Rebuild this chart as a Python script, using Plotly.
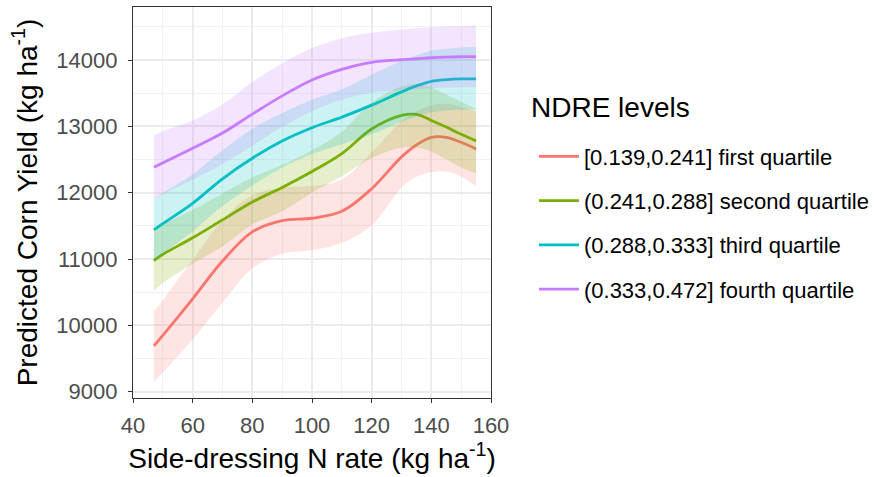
import plotly.graph_objects as go

# Side-dressing N rates at which the fitted curves are evaluated (kg/ha)
n_rate = [47, 50, 60, 70, 80, 90, 100, 110, 120, 130, 135, 140, 145, 150, 155]

levels = [
    "[0.139,0.241] first quartile",
    "(0.241,0.288] second quartile",
    "(0.288,0.333] third quartile",
    "(0.333,0.472] fourth quartile",
]
colors = ["#F8766D", "#7CAE00", "#00BFC4", "#C77CFF"]
fills = ["rgba(248,118,109,0.2)", "rgba(124,174,0,0.2)",
         "rgba(0,191,196,0.2)", "rgba(199,124,255,0.2)"]

# Predicted yield (kg/ha) and confidence band for each NDRE level
q1_fit = [9690, 9850, 10400, 10970, 11410, 11580, 11615, 11720, 12060, 12540, 12720, 12835, 12835, 12760, 12660]
q1_lo = [9150, 9290, 9790, 10340, 10860, 11080, 11135, 11245, 11510, 12080, 12240, 12310, 12320, 12240, 12100]
q1_hi = [10210, 10380, 10990, 11590, 11960, 12080, 12100, 12200, 12610, 13080, 13230, 13320, 13340, 13290, 13220]

q2_fit = [10975, 11070, 11320, 11590, 11860, 12080, 12320, 12590, 12960, 13165, 13180, 13090, 12990, 12880, 12780]
q2_lo = [10520, 10640, 10930, 11190, 11520, 11720, 12000, 12250, 12520, 12680, 12680, 12620, 12500, 12380, 12290]
q2_hi = [11430, 11520, 11740, 11990, 12230, 12420, 12640, 12920, 13360, 13600, 13640, 13590, 13480, 13370, 13260]

q3_fit = [11440, 11535, 11840, 12210, 12520, 12780, 12980, 13140, 13320, 13520, 13610, 13680, 13705, 13715, 13715]
q3_lo = [10970, 11080, 11420, 11800, 12110, 12380, 12580, 12730, 12880, 13070, 13150, 13210, 13240, 13250, 13250]
q3_hi = [11910, 12000, 12280, 12640, 12960, 13200, 13400, 13560, 13780, 13990, 14070, 14140, 14170, 14190, 14200]

q4_fit = [12385, 12450, 12670, 12900, 13185, 13460, 13700, 13860, 13965, 14005, 14020, 14035, 14045, 14050, 14050]
q4_lo = [11910, 11980, 12200, 12430, 12710, 12990, 13230, 13400, 13510, 13550, 13565, 13575, 13585, 13590, 13590]
q4_hi = [12860, 12930, 13090, 13330, 13670, 13950, 14180, 14330, 14410, 14460, 14480, 14495, 14505, 14515, 14520]

fits = [q1_fit, q2_fit, q3_fit, q4_fit]
lows = [q1_lo, q2_lo, q3_lo, q4_lo]
highs = [q1_hi, q2_hi, q3_hi, q4_hi]

FONT = "Liberation Sans, Arial, sans-serif"
TITLE_SIZE = 28
TEXT_SIZE = 22

fig = go.Figure()
for i, name in enumerate(levels):
    grp = f"g{i}"
    fig.add_trace(go.Scatter(
        x=n_rate, y=lows[i], mode="lines",
        line=dict(width=0, shape="spline", smoothing=1.0),
        showlegend=False, hoverinfo="skip", legendgroup=grp,
    ))
    fig.add_trace(go.Scatter(
        x=n_rate, y=highs[i], mode="lines", fill="tonexty",
        fillcolor=fills[i],
        line=dict(width=0, shape="spline", smoothing=1.0),
        showlegend=False, hoverinfo="skip", legendgroup=grp,
    ))
    fig.add_trace(go.Scatter(
        x=n_rate, y=fits[i], mode="lines", name=name,
        line=dict(color=colors[i], width=2.8, shape="spline", smoothing=1.0),
        legendgroup=grp,
    ))

axis_common = dict(
    showline=True, mirror=True, linecolor="#333333", linewidth=1.2,
    ticks="outside", ticklen=4, tickcolor="#333333", tickwidth=1.1,
    showgrid=True, gridcolor="#EBEBEB", gridwidth=1.6,
    zeroline=False,
    tickfont=dict(family=FONT, size=TEXT_SIZE, color="#4D4D4D"),
)

fig.update_xaxes(
    range=[40, 160], tickvals=[40, 60, 80, 100, 120, 140, 160],
    ticklabelstandoff=3,
    minor=dict(dtick=10, tick0=0, showgrid=True, gridcolor="#F2F2F2", gridwidth=0.9),
    title=dict(text="Side-dressing N rate (kg ha<sup>-1</sup>)",
               font=dict(family=FONT, size=TITLE_SIZE, color="black"), standoff=11),
    **axis_common,
)
fig.update_yaxes(
    range=[8905, 14800], tickvals=[9000, 10000, 11000, 12000, 13000, 14000],
    tickformat="d", ticklabelstandoff=6,
    minor=dict(dtick=500, tick0=0, showgrid=True, gridcolor="#F2F2F2", gridwidth=0.9),
    title=dict(text="Predicted Corn Yield (kg ha<sup>-1</sup>)",
               font=dict(family=FONT, size=TITLE_SIZE, color="black"), standoff=10),
    **axis_common,
)

fig.add_annotation(
    text="NDRE levels", xref="paper", yref="paper",
    x=1.105, y=0.742, xanchor="left", yanchor="middle",
    showarrow=False, font=dict(family=FONT, size=TITLE_SIZE, color="black"),
)

fig.update_layout(
    width=880, height=477,
    margin=dict(l=133, r=389, t=7, b=79, autoexpand=False),
    paper_bgcolor="white", plot_bgcolor="white",
    font=dict(family=FONT),
    legend=dict(
        font=dict(family=FONT, size=TEXT_SIZE, color="black"),
        x=1.12, xanchor="left", y=0.671, yanchor="top",
        itemwidth=40, tracegroupgap=12.6,
        bgcolor="rgba(0,0,0,0)",
    ),
)

fig.write_html("out.html")
